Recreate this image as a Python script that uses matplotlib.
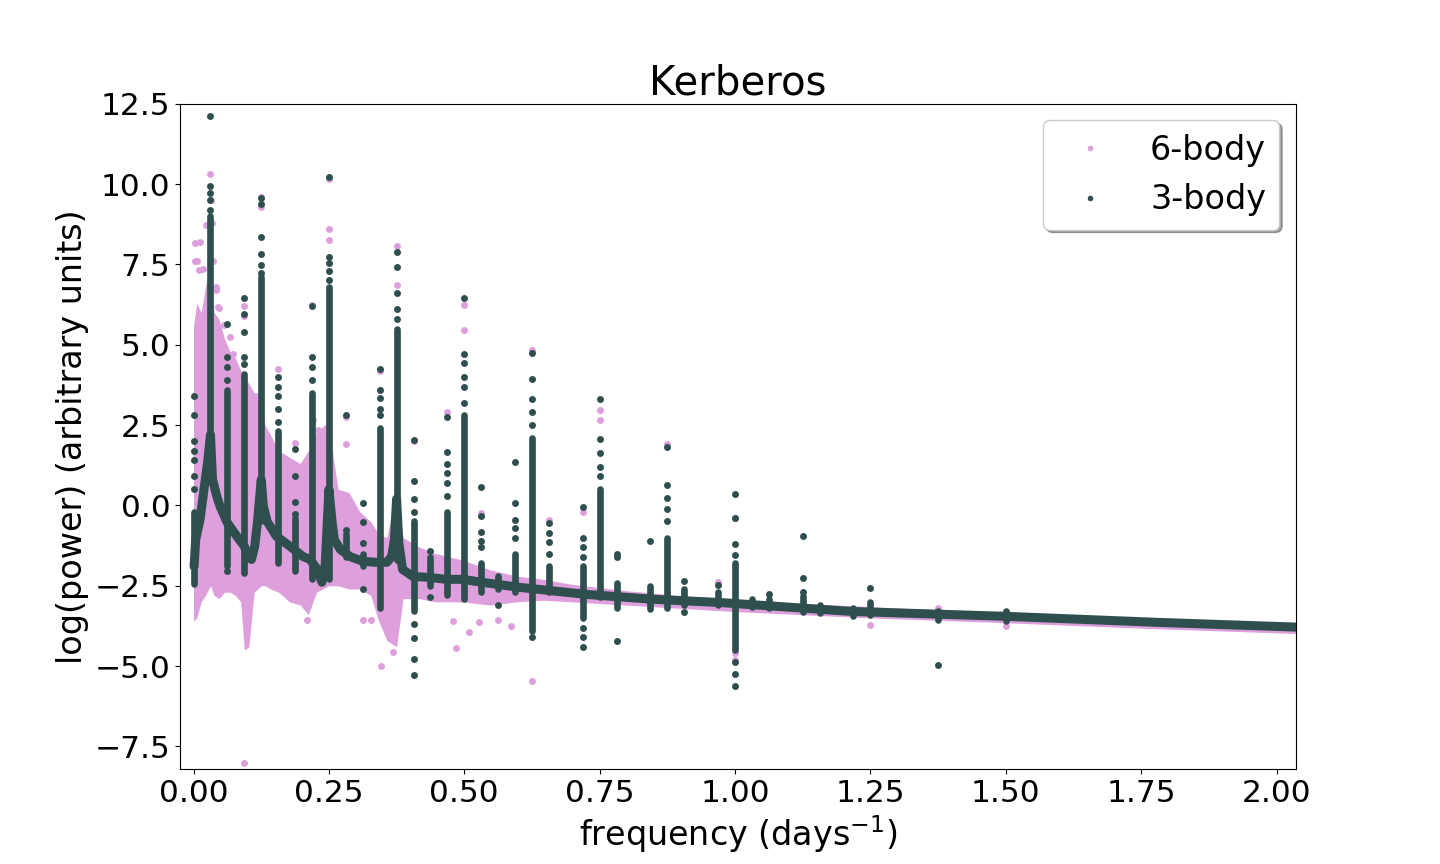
import matplotlib
matplotlib.use("Agg")
import matplotlib.pyplot as plt
import numpy as np
from matplotlib.lines import Line2D

pink = "plum"
dark = "darkslategray"

# 3-body: smooth background of the periodogram (frequency in 1/day, log power)
base_freq = [0.001, 0.004, 0.012, 0.021, 0.026, 0.03125, 0.035, 0.043, 0.049, 0.062,
             0.080, 0.09375, 0.101, 0.107, 0.113, 0.118, 0.125, 0.129, 0.136, 0.153,
             0.178, 0.202, 0.215, 0.229, 0.237, 0.243, 0.25, 0.256, 0.260, 0.271,
             0.289, 0.3125, 0.338, 0.357, 0.366, 0.371, 0.375, 0.379, 0.386, 0.405,
             0.436, 0.467, 0.497, 0.532, 0.602, 0.726, 0.848, 0.971, 1.217, 1.499,
             1.783, 2.060]
base_val = [-1.9, -1.06, -0.44, 0.72, 1.34, 2.2, 0.81, 0.28, -0.03, -0.53,
            -0.96, -1.27, -1.6, -1.68, -1.27, -0.53, 0.8, -0.03, -0.5, -0.96,
            -1.27, -1.59, -1.68, -2.0, -2.39, -1.9, 0.5, -0.53, -1.06, -1.37,
            -1.59, -1.74, -1.77, -1.77, -1.59, -1.06, 0.2, -1.15, -1.99, -2.21,
            -2.24, -2.30, -2.30, -2.39, -2.55, -2.77, -2.92, -3.02, -3.30, -3.45,
            -3.64, -3.80]

# 3-body: spikes at harmonics of 1/32 day^-1 (dense range) and their loose points
spike_freq = [0.0, 0.03125, 0.0625, 0.09375, 0.125, 0.15625, 0.1875, 0.21875, 0.25, 0.28125,
              0.3125, 0.34375, 0.375, 0.40625, 0.4375, 0.46875, 0.5, 0.53125, 0.5625, 0.59375,
              0.625, 0.65625, 0.71875, 0.75, 0.78125, 0.84375, 0.875, 0.90625, 0.96875, 1.0,
              1.03125, 1.0625, 1.125, 1.15625, 1.21875, 1.25, 1.375, 1.5]
spike_low = [-2.46, 0.8, -1.9, -2.1, -0.5, -1.8, -2.05, -2.3, -2.3, -1.6,
             -1.9, -3.2, -1.7, -3.3, -2.5, -2.8, -2.9, -2.7, -2.6, -2.7,
             -3.9, -2.7, -3.5, -2.86, -3.2, -3.23, -3.2, -3.1, -3.1, -4.5,
             -3.15, -3.2, -3.33, -3.35, -3.45, -3.4, -3.55, -3.6]
spike_high = [-0.2, 9.0, 3.6, 4.1, 7.1, 2.3, -0.4, 3.5, 6.8, -0.9,
              -1.5, 2.4, 5.5, -0.5, -1.6, -0.2, 2.8, -1.8, -2.2, -1.5,
              2.1, -1.9, -1.9, 0.5, -2.4, -2.5, -1.0, -2.6, -2.7, -1.8,
              -2.9, -2.9, -2.83, -3.1, -3.2, -2.99, -3.3, -3.3]
spike_dots = [
    [3.4, 2.8, 2.0, 1.7, 1.4, 0.9, 0.5],
    [9.2, 9.5, 9.73, 9.95, 12.13],
    [3.9, 4.3, 4.63, 5.66, -2.05],
    [4.4, 4.63, 5.41, 5.97, 6.46],
    [7.24, 7.49, 7.83, 8.36, 9.39, 9.58],
    [2.6, 3.0, 3.4, 3.7, 4.0],
    [-0.28, 0.12, 0.9, 1.74],
    [3.9, 4.3, 4.63, 6.19],
    [7.0, 7.3, 7.55, 7.74, 10.23],
    [2.8, -0.75],
    [0.06, -0.53, -1.18, -2.6],
    [2.8, 3.0, 3.33, 3.6, 4.23],
    [5.8, 6.1, 6.6, 7.43, 7.9],
    [2.02, 0.75, 0.2, -0.2, -3.7, -4.14, -4.79, -5.29],
    [-1.43, -2.86],
    [0.28, 0.7, 1.0, 1.3, 1.65, 2.74],
    [3.2, 3.7, 4.0, 4.42, 4.7, 6.44],
    [0.56, -0.34, -0.84, -1.1, -1.3],
    [-3.1],
    [1.34, 0.06, -0.44, -0.7, -1.0],
    [2.5, 2.9, 3.3, 3.92, 4.73, -4.1],
    [-0.56, -0.87, -1.15, -1.5],
    [-0.06, -1.0, -1.3, -1.6, -3.8, -4.1, -4.42],
    [0.9, 1.2, 1.62, 2.08, 3.3],
    [-1.5, -1.62, -4.23],
    [-1.12],
    [-0.5, -0.1, 0.22, 0.65, 1.83],
    [-2.36, -3.33],
    [-2.49],
    [0.34, -0.4, -1.2, -1.55, -4.88, -5.26, -5.63],
    [],
    [-2.77],
    [-0.96, -2.27, -2.7],
    [],
    [],
    [-2.58],
    [-4.98],
    [-3.33],
]

# 6-body: extent of the dense cloud of points, plus the loose points
pink_freq = [0.0, 0.006, 0.014, 0.022, 0.03125, 0.038, 0.047, 0.057, 0.067, 0.077,
             0.087, 0.09375, 0.102, 0.112, 0.125, 0.132, 0.142, 0.157, 0.177, 0.197,
             0.212, 0.227, 0.25, 0.258, 0.267, 0.287, 0.307, 0.327, 0.342, 0.357,
             0.375, 0.387, 0.417, 0.447, 0.497, 0.547, 0.597, 0.647, 0.697, 0.797,
             0.897, 0.997, 1.25, 1.5, 1.75, 2.06]
pink_upper = [5.6, 6.3, 6.0, 6.8, 7.5, 6.0, 5.8, 5.2, 4.8, 4.6,
              4.2, 4.0, 3.8, 3.5, 3.5, 2.5, 2.2, 1.7, 1.5, 1.3,
              1.7, 2.3, 2.6, 1.5, 0.5, 0.4, -0.2, -0.5, -0.9, -1.0,
              0.5, -1.0, -1.3, -1.5, -1.7, -2.0, -2.2, -2.3, -2.45, -2.65,
              -2.8, -2.95, -3.15, -3.35, -3.55, -3.75]
pink_lower = [-3.6, -3.5, -3.0, -2.8, -2.5, -2.8, -2.9, -2.7, -2.7, -2.8,
              -3.0, -4.5, -4.4, -2.7, -2.5, -2.5, -2.6, -2.7, -3.0, -3.1,
              -3.4, -2.7, -2.5, -2.5, -2.5, -2.6, -2.6, -2.8, -3.6, -4.2,
              -4.4, -2.9, -2.9, -3.0, -3.0, -3.1, -3.0, -2.95, -3.0, -3.1,
              -3.2, -3.3, -3.5, -3.65, -3.82, -4.0]
pink_dot_freq = [0.003, 0.006, 0.012, 0.017, 0.023, 0.03125, 0.032, 0.034, 0.036, 0.041,
                 0.047, 0.056, 0.067, 0.073, 0.078, 0.087, 0.09375, 0.09375, 0.125, 0.125,
                 0.15625, 0.1875, 0.21875, 0.221, 0.229, 0.25, 0.25, 0.25, 0.28125, 0.28125,
                 0.34375, 0.34375, 0.375, 0.375, 0.40625, 0.46875, 0.5, 0.5, 0.53125, 0.625,
                 0.65625, 0.71875, 0.75, 0.75, 0.875, 0.093, 0.209, 0.3125, 0.327, 0.346,
                 0.368, 0.480, 0.484, 0.508, 0.527, 0.5625, 0.587, 0.625, 0.96875, 1.25,
                 1.375, 1.5, 1.0, 1.0, 1.0, 0.003, 0.011, 0.041, 0.045, 0.067,
                 0.073, 0.101]
pink_dot_val = [8.18, 7.6, 8.2, 7.35, 8.74, 10.3, 9.5, 8.8, 7.6, 6.8,
                6.15, 5.6, 5.25, 4.7, 4.0, 3.42, 5.9, 6.2, 9.6, 9.27,
                4.23, 1.93, 6.25, 2.67, 2.36, 10.15, 8.6, 8.27, 2.74, 1.9,
                4.17, 3.6, 8.08, 6.87, 1.99, 2.9, 6.25, 5.47, -0.25, 4.85,
                -0.44, -0.22, 2.98, 2.67, 1.9, -8.02, -3.58, -3.58, -3.58, -5.0,
                -4.57, -3.6, -4.45, -3.95, -3.64, -3.55, -3.76, -5.47, -2.39, -3.73,
                -3.2, -3.76, -4.6, -4.8, -0.4, 7.59, 7.33, 6.7, 6.18, 4.63,
                4.17, 3.3]

fig, ax = plt.subplots(figsize=(14.4, 8.64), dpi=100)

# 6-body underneath
ax.fill_between(pink_freq, pink_lower, pink_upper, color=pink, lw=0)
ax.plot(pink_dot_freq, pink_dot_val, "o", color=pink, ms=5, mew=0)

# 3-body on top
ax.plot(base_freq, base_val, color=dark, lw=6.5,
        solid_capstyle="round", solid_joinstyle="round")
ax.vlines(spike_freq, spike_low, spike_high, color=dark, lw=4.8, capstyle="round")
dot_f = []
dot_v = []
for f, vals in zip(spike_freq, spike_dots):
    for v in vals:
        dot_f.append(f)
        dot_v.append(v)
ax.plot(dot_f, dot_v, "o", color=dark, ms=5, mew=0)

ax.set_xlim(-0.025, 2.036)
ax.set_ylim(-8.2, 12.5)
ax.set_xticks(np.arange(0, 2.01, 0.25))
ax.set_yticks(np.arange(-7.5, 12.51, 2.5))
ax.tick_params(labelsize=22.5)
ax.set_xlabel("frequency (days$^{-1}$)", fontsize=24)
ax.set_ylabel("log(power) (arbitrary units)", fontsize=24)
ax.set_title("Kerberos", fontsize=29)

handles = [Line2D([], [], ls="none", marker=".", color=pink, ms=6, label="6-body"),
           Line2D([], [], ls="none", marker=".", color=dark, ms=6, label="3-body")]
ax.legend(handles=handles, loc="upper right", shadow=True, fontsize=24)

plt.savefig("out.png", format="png")
plt.close(fig)
